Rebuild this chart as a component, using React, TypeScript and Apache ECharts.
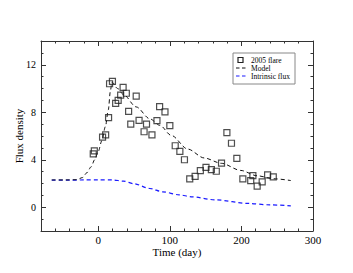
import React, { useEffect, useRef } from "react";
import * as echarts from "echarts";

const flareT = [-7, -5.5, 6, 10.3, 14.4, 15.8, 19.8, 24.3, 27.8, 31.3, 34.7, 39.2, 42.4, 45.4, 53, 57, 64, 67.4, 75, 82, 85.7, 93.2, 100, 107.5, 114, 120.4, 127.8, 135.3, 142.6, 150.5, 158, 164.9, 172.2, 179.7, 186.1, 193.6, 202, 213, 216, 222, 229, 236.6, 244.5];
const flareY = [4.5, 4.75, 5.9, 6.1, 7.55, 10.4, 10.6, 8.75, 9.0, 9.45, 10.1, 9.6, 8.08, 7.0, 9.36, 7.32, 6.36, 7.0, 6.1, 7.3, 8.47, 8.03, 6.88, 5.18, 4.7, 4.0, 2.39, 2.6, 3.08, 3.36, 3.17, 3.03, 3.72, 6.28, 5.39, 4.11, 2.39, 2.25, 2.67, 1.78, 2.14, 2.72, 2.56];

const modelT = [-65, -45, -30, -22, -16, -10, -5, 0, 5, 10, 14, 17, 19, 27, 35, 53, 72, 86, 102, 125, 148, 172, 199, 222, 245, 269];
const modelY = [2.3, 2.3, 2.32, 2.5, 2.9, 3.4, 4.0, 4.7, 5.6, 6.8, 8.2, 9.8, 10.55, 10.0, 9.5, 8.45, 7.45, 6.9, 6.05, 4.9, 4.15, 3.7, 3.1, 2.65, 2.4, 2.25];

const intrT = [-65, -40, -20, 0, 20, 35, 50, 72, 90, 113, 130, 164, 210, 240, 269];
const intrY = [2.28, 2.28, 2.3, 2.3, 2.3, 2.2, 1.98, 1.58, 1.3, 1.05, 0.88, 0.62, 0.32, 0.2, 0.12];

const legendNames = ["2005 flare", "Model", "Intrinsic flux"];
const xMajor = [0, 100, 200, 300];
const yMajor = [0, 4, 8, 12];

const FONT = "Liberation Serif";
const AX = "#333";
const BLUE = "#1a1aff";

export default function App() {
  const ref = useRef<HTMLDivElement>(null);
  useEffect(() => {
    if (!ref.current) return;
    const chart = echarts.init(ref.current, undefined, { renderer: "svg" });
    const xBase = { type: "value", min: -80, max: 300, splitLine: { show: false }, gridIndex: 0 };
    const yBase = { type: "value", min: -2, max: 14, splitLine: { show: false }, gridIndex: 0 };
    const line = { show: true, onZero: false, lineStyle: { color: AX, width: 1 } };
    const noLine = { show: false, onZero: false };
    const minorTick = { show: true, inside: true, length: 2.5, lineStyle: { color: AX } };
    const nameStyle = { fontSize: 11, color: "#000", fontFamily: FONT, fontWeight: "normal" };

    const LX = 233, LY = 53, LW = 62, LH = 31;
    const rowY = [LY + 7, LY + 15, LY + 23];
    const legendGraphic = {
      type: "group",
      children: [
        { type: "rect", shape: { x: LX, y: LY, width: LW, height: LH }, style: { fill: "#fff", stroke: "#888", lineWidth: 1 } },
        { type: "rect", shape: { x: LX + 5, y: rowY[0] - 2.5, width: 5, height: 5 }, style: { fill: "none", stroke: "#222", lineWidth: 1.2 } },
        { type: "line", shape: { x1: LX + 3, y1: rowY[1], x2: LX + 13, y2: rowY[1] }, style: { stroke: "#111", lineWidth: 1, lineDash: [3.5, 2.5] } },
        { type: "line", shape: { x1: LX + 3, y1: rowY[2], x2: LX + 13, y2: rowY[2] }, style: { stroke: BLUE, lineWidth: 1.2, lineDash: [3.5, 2.5] } },
        ...legendNames.map((n, i) => ({
          type: "text",
          x: LX + 18,
          y: rowY[i],
          style: { text: n, fontFamily: FONT, fontSize: 7.5, fill: "#000", verticalAlign: "middle", align: "left" },
        })),
      ],
      z: 100,
    };

    chart.setOption({
      animation: false,
      backgroundColor: "#fff",
      textStyle: { fontFamily: FONT },
      grid: { left: 41, right: 40, top: 41, bottom: 42, containLabel: false },
      graphic: [legendGraphic],
      xAxis: [
        {
          ...xBase,
          position: "bottom",
          interval: 20,
          axisLine: line,
          axisTick: minorTick,
          axisLabel: {
            fontSize: 11,
            color: "#000",
            margin: 3,
            formatter: (v: number) => (v % 100 === 0 ? String(v) : ""),
          },
          name: "Time (day)",
          nameLocation: "middle",
          nameGap: 15,
          nameMoveOverlap: false,
          nameTextStyle: nameStyle,
        },
        {
          ...xBase,
          position: "bottom",
          axisLine: noLine,
          axisTick: { show: true, inside: true, length: 5, customValues: xMajor, lineStyle: { color: AX } },
          axisLabel: { show: false },
        },
        {
          ...xBase,
          position: "top",
          interval: 20,
          axisLine: line,
          axisTick: minorTick,
          axisLabel: { show: false },
        },
        {
          ...xBase,
          position: "top",
          axisLine: noLine,
          axisTick: { show: true, inside: true, length: 5, customValues: xMajor, lineStyle: { color: AX } },
          axisLabel: { show: false },
        },
      ],
      yAxis: [
        {
          ...yBase,
          position: "left",
          interval: 1,
          axisLine: line,
          axisTick: minorTick,
          axisLabel: {
            fontSize: 10,
            color: "#000",
            margin: 5,
            formatter: (v: number) => (v % 4 === 0 ? String(v) : ""),
          },
          name: "Flux density",
          nameLocation: "middle",
          nameGap: 17,
          nameMoveOverlap: false,
          nameTextStyle: nameStyle,
        },
        {
          ...yBase,
          position: "left",
          axisLine: noLine,
          axisTick: { show: true, inside: true, length: 5, customValues: yMajor, lineStyle: { color: AX } },
          axisLabel: { show: false },
        },
        {
          ...yBase,
          position: "right",
          interval: 1,
          axisLine: line,
          axisTick: minorTick,
          axisLabel: { show: false },
        },
        {
          ...yBase,
          position: "right",
          axisLine: noLine,
          axisTick: { show: true, inside: true, length: 5, customValues: yMajor, lineStyle: { color: AX } },
          axisLabel: { show: false },
        },
      ],
      series: [
        {
          name: "2005 flare",
          type: "scatter",
          xAxisIndex: 0,
          yAxisIndex: 0,
          symbol: "rect",
          symbolSize: 6,
          itemStyle: { color: "rgba(255,255,255,0)", borderColor: "#222", borderWidth: 1.2 },
          data: flareT.map((t, i) => [t, flareY[i]]),
          z: 5,
        },
        {
          name: "Model",
          type: "line",
          xAxisIndex: 0,
          yAxisIndex: 0,
          showSymbol: false,
          symbol: "none",
          smooth: 0.3,
          smoothMonotone: "x",
          lineStyle: { color: "#111", width: 1, type: [4, 3] },
          data: modelT.map((t, i) => [t, modelY[i]]),
          z: 4,
        },
        {
          name: "Intrinsic flux",
          type: "line",
          xAxisIndex: 0,
          yAxisIndex: 0,
          showSymbol: false,
          symbol: "none",
          smooth: 0.3,
          smoothMonotone: "x",
          lineStyle: { color: BLUE, width: 1.2, type: [4, 3] },
          data: intrT.map((t, i) => [t, intrY[i]]),
          z: 3,
        },
      ],
    });
    return () => chart.dispose();
  }, []);
  return (
    <div
      ref={ref}
      style={{ position: "fixed", left: 0, top: 0, width: 353, height: 273, background: "#fff" }}
    />
  );
}
